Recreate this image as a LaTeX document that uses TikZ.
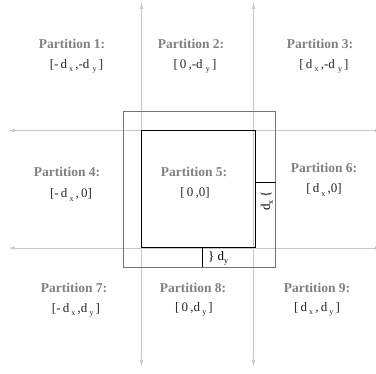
\documentclass[tikz,border=0pt]{standalone}
\usepackage{fontspec}
\setmainfont{Liberation Serif}
\usetikzlibrary{arrows.meta}
\newcommand\dsub[1]{\raisebox{-0.55ex}{\fontsize{8}{8}\selectfont #1}}
\tikzset{
  guide/.style={draw=black!22, line width=0.8pt, {Latex[length=7pt,width=3.5pt,fill=black!12]}-{Latex[length=7pt,width=3.5pt,fill=black!12]}},
  outerbox/.style={draw=black!55, line width=0.8pt},
  innerbox/.style={draw=black, line width=1pt},
  gapbar/.style={draw=black, line width=1.6pt},
  ptitle/.style={font=\fontsize{13.5}{14}\selectfont\bfseries, text=black!50, inner sep=0pt},
  pcoord/.style={font=\fontsize{13}{14}\selectfont, text=black!85, inner sep=0pt},
  gaplabel/.style={font=\fontsize{13}{14}\selectfont, text=black, inner sep=0pt}
}
\begin{document}
\begin{tikzpicture}[x=1pt,y=-1pt]
\useasboundingbox (0,0) rectangle (376,374);
% guide lines
\coordinate (v1t) at (141.5,2);
\coordinate (v1b) at (141.5,367);
\coordinate (v2t) at (253.5,2);
\coordinate (v2b) at (253.5,367);
\coordinate (h1l) at (8,130.5);
\coordinate (h1r) at (382,130.5);
\coordinate (h2l) at (8,248);
\coordinate (h2r) at (382,248);
\draw[guide] (v1t) -- (v1b);
\draw[guide] (v2t) -- (v2b);
\draw[guide] (h1l) -- (h1r);
\draw[guide] (h2l) -- (h2r);
% boxes
\draw[outerbox] (123.5,111) rectangle (275.5,267.5);
\draw[innerbox] (141.5,130.5) rectangle (255.5,248);
% gap markers
\coordinate (gx1) at (256,182.5);
\coordinate (gx2) at (275.5,182.5);
\draw[gapbar] (gx1) -- (gx2);
\coordinate (gy1) at (202.5,248.5);
\coordinate (gy2) at (202.5,267.5);
\draw[gapbar] (gy1) -- (gy2);
\node[gaplabel, rotate=90] (lx) at (267,201) {d\dsub{x}\ \{};
\node[gaplabel, anchor=west] (ly) at (208,258) {\}\ d\dsub{y}};
% partitions
\node[ptitle] (t1) at (72,44) {Partition 1:};
\node[pcoord] (c1) at (76.5,66) {[-\,d\,\dsub{x}\,,-d\ \dsub{y}\,]};
\node[ptitle] (t2) at (191,44) {Partition 2:};
\node[pcoord] (c2) at (195,66) {[\,0\,,-d\ \dsub{y}\,]};
\node[ptitle] (t3) at (320,44) {Partition 3:};
\node[pcoord] (c3) at (324,66) {[\,d\,\dsub{x}\,,-d\ \dsub{y}\,]};
\node[ptitle] (t4) at (67,172) {Partition 4:};
\node[pcoord] (c4) at (71,195) {[-\,d\,\dsub{x}\,,\,0]};
\node[ptitle] (t5) at (194,172) {Partition 5:};
\node[pcoord] (c5) at (195,193) {[\,0\,,0]};
\node[ptitle] (t6) at (324,168) {Partition 6:};
\node[pcoord] (c6) at (324,190) {[\,d\,\dsub{x}\,,0]};
\node[ptitle] (t7) at (74,288) {Partition 7:};
\node[pcoord] (c7) at (76,310) {[-\,d\,\dsub{x}\,,d\,\dsub{y}\,]};
\node[ptitle] (t8) at (193,288) {Partition 8:};
\node[pcoord] (c8) at (194,309) {[\,0\,,d\,\dsub{y}\,]};
\node[ptitle] (t9) at (317,288) {Partition 9:};
\node[pcoord] (c9) at (317,309) {[\,d\,\dsub{x}\,,\,d\,\dsub{y}\,]};
\end{tikzpicture}
\end{document}
